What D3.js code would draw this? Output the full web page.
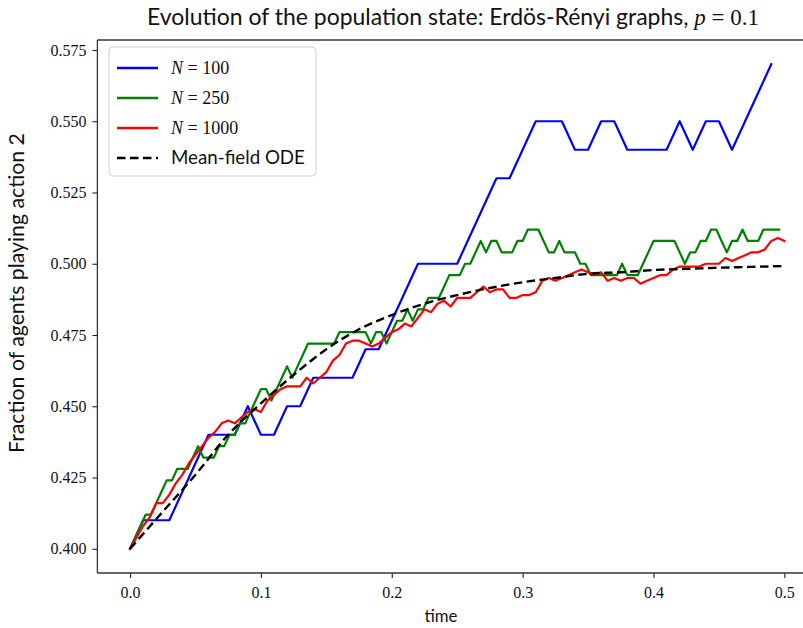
<!DOCTYPE html>
<html><head><meta charset="utf-8">
<script src="https://cdn.jsdelivr.net/npm/d3@7"></script>
<style>body{margin:0;background:#fff}svg{display:block}</style>
</head><body><svg id="c" width="803" height="628"></svg>
<script>
// ---------- data ----------
const xTicks = [0.0, 0.1, 0.2, 0.3, 0.4, 0.5];
const xTickLabels = ["0.0", "0.1", "0.2", "0.3", "0.4", "0.5"];
const yTicks = [0.400, 0.425, 0.450, 0.475, 0.500, 0.525, 0.550, 0.575];
const yTickLabels = ["0.400", "0.425", "0.450", "0.475", "0.500", "0.525", "0.550", "0.575"];

const seriesNames = ["N = 100", "N = 250", "N = 1000", "Mean-field ODE"];

// N = 100, time step 0.01
const dtN100 = 0.01;
const valuesN100 = [0.40,0.41,0.41,0.41,0.42,0.43,0.44,0.44,0.44,0.45,
  0.44,0.44,0.45,0.45,0.46,0.46,0.46,0.46,0.47,0.47,
  0.48,0.49,0.50,0.50,0.50,0.50,0.51,0.52,0.53,0.53,
  0.54,0.55,0.55,0.55,0.54,0.54,0.55,0.55,0.54,0.54,
  0.54,0.54,0.55,0.54,0.55,0.55,0.54,0.55,0.56,0.57];

// N = 250, time step 0.004
const dtN250 = 0.004;
const valuesN250 = [0.400,0.404,0.408,0.412,0.412,0.416,0.420,0.424,0.424,0.428,
  0.428,0.428,0.432,0.436,0.432,0.432,0.432,0.436,0.436,0.440,
  0.440,0.444,0.444,0.448,0.452,0.456,0.456,0.452,0.456,0.460,
  0.464,0.460,0.464,0.468,0.472,0.472,0.472,0.472,0.472,0.472,
  0.476,0.476,0.476,0.476,0.476,0.476,0.472,0.476,0.476,0.472,
  0.476,0.480,0.480,0.484,0.480,0.484,0.484,0.488,0.488,0.488,
  0.492,0.496,0.496,0.496,0.500,0.500,0.504,0.508,0.504,0.508,
  0.508,0.504,0.504,0.504,0.508,0.508,0.512,0.512,0.512,0.508,
  0.504,0.504,0.508,0.504,0.504,0.504,0.500,0.500,0.496,0.496,
  0.496,0.496,0.496,0.496,0.500,0.496,0.496,0.496,0.500,0.504,
  0.508,0.508,0.508,0.508,0.508,0.504,0.500,0.504,0.504,0.508,
  0.508,0.512,0.512,0.508,0.504,0.508,0.508,0.512,0.508,0.508,
  0.508,0.512,0.512,0.512,0.512];

// N = 1000, read every 0.005
const dtN1000 = 0.005;
const valuesN1000 = [0.400,0.404,0.408,0.411,0.416,0.416,0.419,0.423,0.426,0.430,
  0.433,0.436,0.439,0.441,0.444,0.445,0.444,0.446,0.448,0.449,
  0.448,0.452,0.454,0.456,0.457,0.457,0.457,0.460,0.458,0.460,
  0.462,0.466,0.468,0.472,0.473,0.473,0.472,0.471,0.472,0.474,
  0.476,0.477,0.479,0.478,0.481,0.484,0.483,0.486,0.487,0.485,
  0.488,0.488,0.488,0.490,0.492,0.490,0.491,0.491,0.488,0.488,
  0.489,0.489,0.490,0.494,0.495,0.494,0.495,0.496,0.497,0.498,
  0.497,0.496,0.497,0.494,0.495,0.494,0.495,0.495,0.493,0.494,
  0.495,0.496,0.496,0.498,0.499,0.499,0.499,0.499,0.500,0.500,
  0.500,0.502,0.501,0.502,0.503,0.504,0.504,0.505,0.508,0.509,
  0.508];

// Mean-field ODE, read every 0.025
const dtODE = 0.025;
const valuesODE = [0.400,0.413,0.426,0.440,0.451,0.461,0.470,0.477,0.482,0.486,
  0.489,0.4915,0.4935,0.495,0.4965,0.497,0.4978,0.4982,0.4986,0.4989,0.4992];

// ---------- drawing ----------
const svg = d3.select("#c");
const x = d3.scaleLinear().domain([-0.02495, 0.52395]).range([97.4, 815.7]);
const y = d3.scaleLinear().domain([0.3915, 0.5785]).range([573, 40]);

const toPts = (vals, dt) => vals.map((v, i) => [i * dt, v]);

svg.append("defs").append("clipPath").attr("id", "plotclip")
  .append("rect").attr("x", x.range()[0]).attr("y", 40)
  .attr("width", x.range()[1] - x.range()[0]).attr("height", 533);

const plot = svg.append("g").attr("clip-path", "url(#plotclip)");
const line = d3.line().x(d => x(d[0])).y(d => y(d[1]));
const smooth = d3.line().x(d => x(d[0])).y(d => y(d[1])).curve(d3.curveMonotoneX);

const series = [
  {vals: valuesN100, dt: dtN100, color: "#0000ff"},
  {vals: valuesN250, dt: dtN250, color: "#008000"},
  {vals: valuesN1000, dt: dtN1000, color: "#ff0000"}
];
series.forEach(s => {
  plot.append("path").datum(toPts(s.vals, s.dt))
    .attr("d", line).attr("fill", "none").attr("stroke", s.color)
    .attr("stroke-width", 2.2).attr("stroke-linejoin", "round").attr("stroke-linecap", "square");
});
plot.append("path").datum(toPts(valuesODE, dtODE))
  .attr("d", smooth).attr("fill", "none").attr("stroke", "#000")
  .attr("stroke-width", 2.4).attr("stroke-dasharray", "8.5,4.5");

// axes
const serif = "'Liberation Serif', 'DejaVu Serif', serif";
const sans = "Lato, 'Open Sans', 'DejaVu Sans', sans-serif";

const xAxis = d3.axisBottom(x).tickValues(xTicks).tickFormat((d, i) => xTickLabels[i]).tickSize(5).tickPadding(5);
const gx = svg.append("g").attr("transform", "translate(0,573)").call(xAxis);
const yAxis = d3.axisLeft(y).tickValues(yTicks).tickFormat((d, i) => yTickLabels[i]).tickSize(5).tickPadding(6);
const gy = svg.append("g").attr("transform", "translate(97.4,0)").call(yAxis);
[gx, gy].forEach(g => {
  g.attr("font-family", serif).attr("font-size", 16);
  g.select(".domain").remove();
  g.selectAll(".tick line").attr("stroke", "#222").attr("stroke-width", 1.1);
  g.selectAll(".tick text").attr("fill", "#111")
    .attr("font-family", serif).style("font-family", serif).style("font-size", "16px");
});
gx.selectAll(".tick text").attr("dy", "0.95em");

// spines
const sp = svg.append("g").attr("stroke", "#333").attr("stroke-width", 1.3).attr("fill", "none");
sp.append("line").attr("x1", 97.4).attr("x2", 97.4).attr("y1", 40).attr("y2", 573);
sp.append("line").attr("x1", 97.4).attr("x2", 815.7).attr("y1", 573).attr("y2", 573);
sp.append("line").attr("x1", 97.4).attr("x2", 815.7).attr("y1", 40).attr("y2", 40);

// fit helper
function fit(sel, targetW) {
  const w = sel.node().getComputedTextLength();
  const fs = parseFloat(sel.style("font-size"));
  sel.style("font-size", (fs * targetW / w).toFixed(2) + "px");
}

// title
const title = svg.append("text").attr("x", 453).attr("y", 25).attr("text-anchor", "middle")
  .style("font-family", sans).style("font-size", "18px").attr("fill", "#111");
title.append("tspan").text("Evolution of the population state: Erdös-Rényi graphs, ");
title.append("tspan").style("font-family", serif).style("font-style", "italic").text("p");
title.append("tspan").style("font-family", serif).text(" = 0.1");
fit(title, 612);

// axis labels
const xl = svg.append("text").attr("x", 441).attr("y", 622).attr("text-anchor", "middle")
  .style("font-family", sans).style("font-size", "15px").attr("fill", "#111").text("time");
fit(xl, 33);
const yl = svg.append("text").attr("transform", "translate(24,293) rotate(-90)").attr("text-anchor", "middle")
  .style("font-family", sans).style("font-size", "15px").attr("fill", "#111").text("Fraction of agents playing action 2");
fit(yl, 320);

// legend
const lg = svg.append("g");
lg.append("rect").attr("x", 109).attr("y", 47).attr("width", 207).attr("height", 129)
  .attr("rx", 4).attr("fill", "#fff").attr("fill-opacity", 0.8).attr("stroke", "#d0d0d0").attr("stroke-width", 1);
const legColors = ["#0000ff", "#008000", "#ff0000", "#000"];
const legY = [68, 98, 128, 158];
seriesNames.forEach((name, i) => {
  const ly = legY[i];
  lg.append("line").attr("x1", 117).attr("x2", 158).attr("y1", ly).attr("y2", ly)
    .attr("stroke", legColors[i]).attr("stroke-width", 2.4)
    .attr("stroke-dasharray", i === 3 ? "8.5,4.5" : null);
  const t = lg.append("text").attr("x", 171).attr("y", ly + 6).attr("fill", "#111");
  if (i < 3) {
    const parts = name.split(" = ");
    t.style("font-family", serif).style("font-size", "18px");
    t.append("tspan").style("font-style", "italic").text(parts[0]);
    t.append("tspan").text(" = " + parts[1]);
  } else {
    t.style("font-family", sans).style("font-size", "16px").text(name);
    fit(t, 134);
  }
});
</script>
</body></html>
